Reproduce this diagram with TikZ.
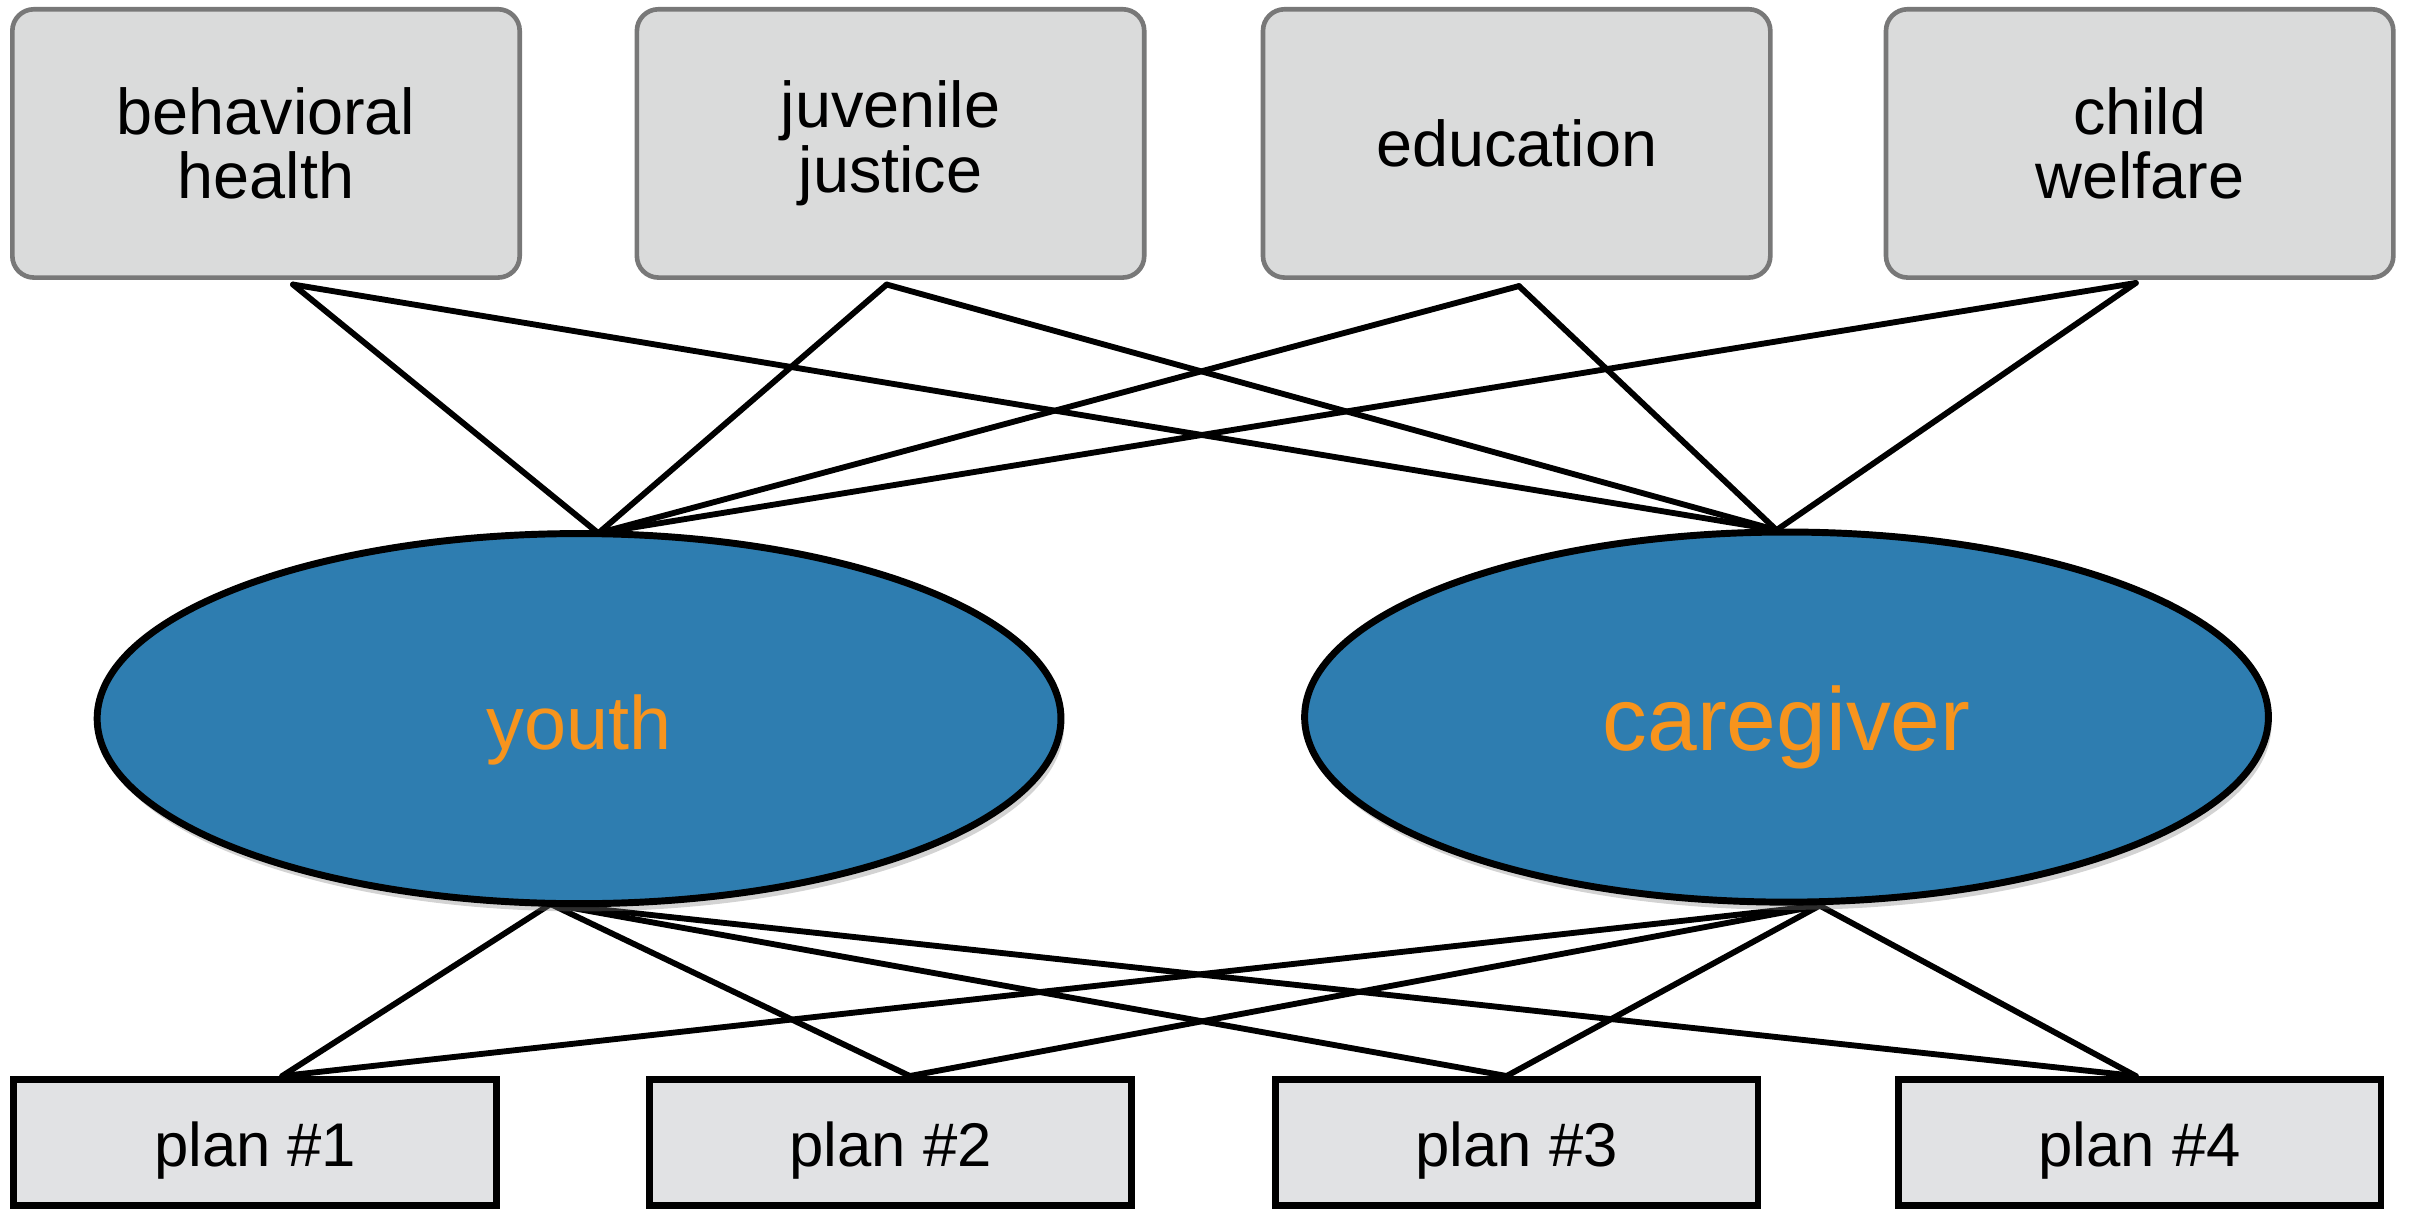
\documentclass[tikz,border=0pt]{standalone}
\usepackage{fontspec}
\setmainfont{Liberation Sans}
\usetikzlibrary{shapes.geometric,calc,backgrounds,shadows}

\definecolor{boxgray}{RGB}{218,219,219}
\definecolor{boxedge}{RGB}{120,120,120}
\definecolor{plangray}{RGB}{225,226,228}
\definecolor{roleblue}{RGB}{46,125,176}
\definecolor{roleorange}{RGB}{247,148,29}

\tikzset{
  agency/.style={rectangle, rounded corners=14pt, draw=boxedge, fill=boxgray,
    line width=3pt, minimum width=329pt, minimum height=174pt, align=center,
    font=\fontsize{42}{42}\selectfont},
  role/.style={ellipse, draw=black, fill=roleblue, line width=4.5pt,
    minimum width=625pt, minimum height=240pt, text=roleorange,
    drop shadow={opacity=0.35, shadow xshift=2pt, shadow yshift=-5pt}},
  plan/.style={rectangle, draw=black, fill=plangray, line width=4.5pt,
    minimum width=313pt, minimum height=82pt, text height=39pt,
    font=\fontsize{40}{40}\selectfont},
  link/.style={draw=black, line width=3.8pt, line cap=round}
}

\begin{document}
\begin{tikzpicture}[x=1pt,y=-1pt]
\useasboundingbox (0,0) rectangle (1568,785);

% service systems
\node[agency] (bh) at (172.5,93) {behavioral\\health};
\node[agency] (jj) at (577.5,93) {juvenile\\justice};
\node[agency] (ed) at (983.5,93) {education};
\node[agency] (cw) at (1387.5,93) {child\\welfare};

% people
\node[role, text height=50pt, font=\fontsize{49}{49}\selectfont] (youth) at (375.5,466) {youth};
\node[role, text height=56pt, font=\fontsize{58}{58}\selectfont] (care) at (1158.5,465) {caregiver};

% plans
\node[plan] (p1) at (165.5,741) {plan \#1};
\node[plan] (p2) at (577.5,741) {plan \#2};
\node[plan] (p3) at (983.5,741) {plan \#3};
\node[plan] (p4) at (1387.5,741) {plan \#4};

% attachment points of the connectors
\coordinate (bh-s) at ($(bh.south)+(17.5,3)$);
\coordinate (jj-s) at ($(jj.south)+(-2.5,3)$);
\coordinate (ed-s) at ($(ed.south)+(1.5,4)$);
\coordinate (cw-s) at ($(cw.south)+(-2.5,2)$);
\coordinate (youth-n) at ($(youth.north)+(12.5,2)$);
\coordinate (care-n) at ($(care.north)+(-6.5,1)$);
\coordinate (youth-s) at ($(youth.south)+(-18.5,-2)$);
\coordinate (care-s) at ($(care.south)+(21.5,0)$);
\coordinate (p1-n) at ($(p1.north)+(17.5,0)$);
\coordinate (p2-n) at ($(p2.north)+(12.5,0)$);
\coordinate (p3-n) at ($(p3.north)+(-6.5,0)$);
\coordinate (p4-n) at ($(p4.north)+(-2.5,0)$);

\begin{scope}[on background layer]
  \foreach \s in {bh-s,jj-s,ed-s,cw-s}{
    \draw[link] (\s) -- (youth-n);
    \draw[link] (\s) -- (care-n);
  }
  \foreach \p in {p1-n,p2-n,p3-n,p4-n}{
    \draw[link] (youth-s) -- (\p);
    \draw[link] (care-s) -- (\p);
  }
\end{scope}
\end{tikzpicture}
\end{document}
